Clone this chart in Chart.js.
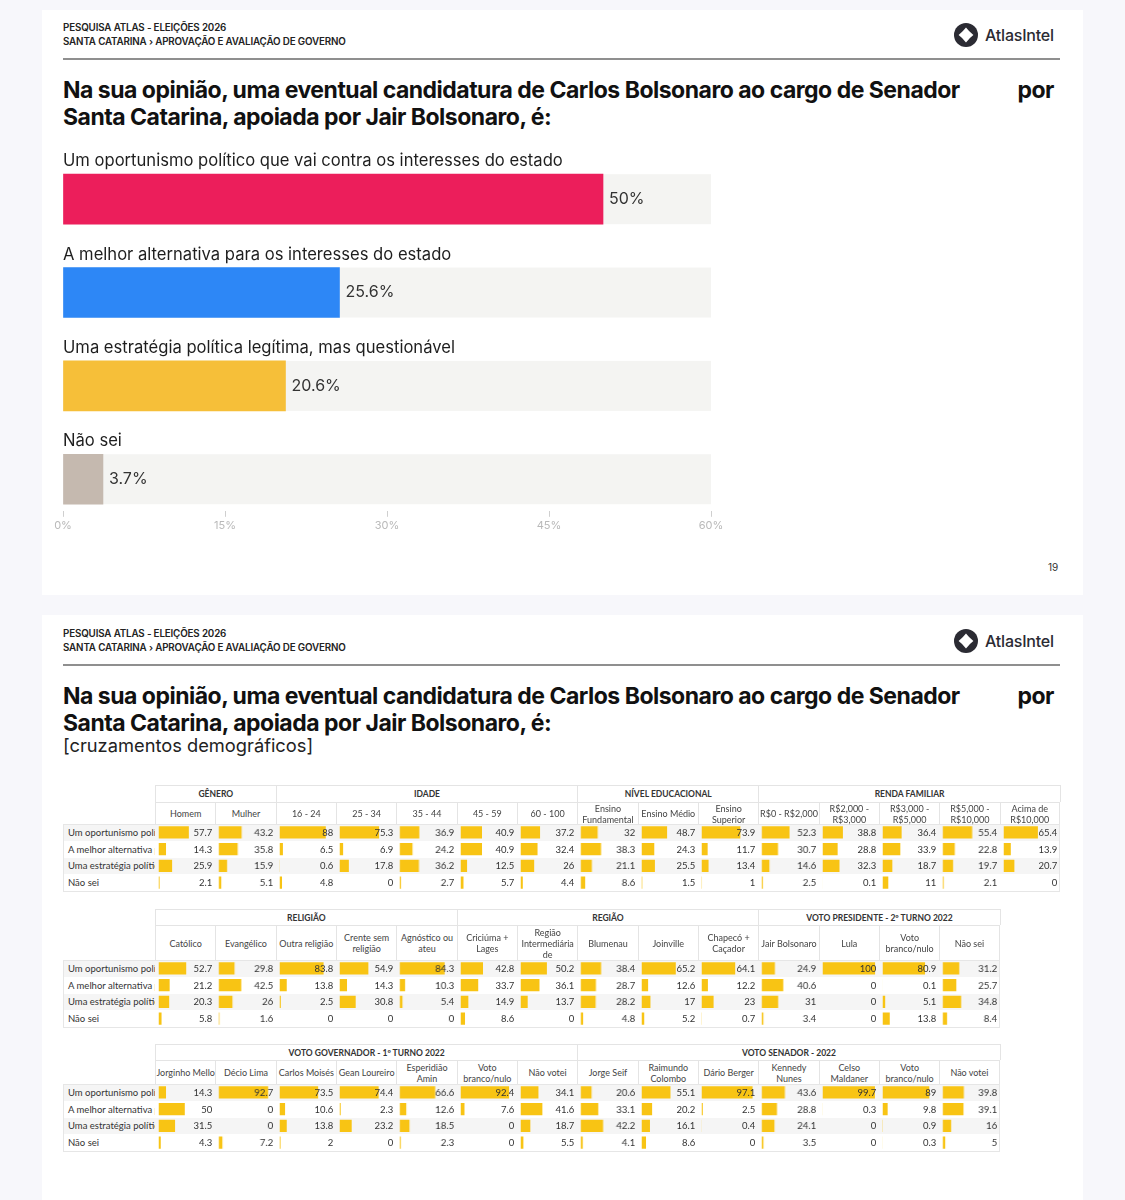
<!DOCTYPE html>
<html lang="pt-BR">
<head>
<meta charset="utf-8">
<title>Pesquisa Atlas - Carlos Bolsonaro ao Senado</title>
<script src="https://cdn.jsdelivr.net/npm/chart.js@4.4.1/dist/chart.umd.min.js"></script>
<style>
  body { margin: 0; width: 1125px; height: 1200px; position: relative; overflow: hidden;
         background: #f7f7fb; font-family: Inter, "Noto Sans", sans-serif; color: #141414; }
  .abs { position: absolute; }
  .card { position: absolute; left: 42px; width: 1041px; background: #fff; }
  .kicker { font-size: 9.8px; font-weight: 600; line-height: 12px; color: #222; letter-spacing: -0.15px; }
  .rule { height: 2px; background: #8f8f8f; left: 63px; width: 997px; }
  .logo { display: flex; align-items: center; gap: 7px; font-size: 16px; font-weight: 500; color: #2b2b33; letter-spacing: -0.2px; }
  .title { left: 63px; width: 991px; font-size: 23px; font-weight: 700; line-height: 27px; letter-spacing: -0.5px; color: #111; }
  .title .l1 { display: flex; justify-content: space-between; }
  .sub { left: 63px; font-size: 18.3px; line-height: 22px; color: #222; }
  .pagenum { font-size: 10px; color: #333; }
  .tbl { position: absolute; font-family: Lato, "Noto Sans", sans-serif; }
  .tbl div { position: absolute; box-sizing: border-box; }
  .ghead { font-size: 8.5px; font-weight: 700; color: #333; text-align: center; border: 1px solid #e4e4e4; border-bottom: none;
           display: flex; align-items: center; justify-content: center; }
  .shead { font-size: 9px; color: #444; text-align: center; line-height: 11px; white-space: pre; border-left: 1px solid #e4e4e4;
           border-top: 1px solid #e4e4e4; display: flex; align-items: center; justify-content: center; }
  .shead.last { border-right: 1px solid #e4e4e4; }
  .row.alt { background: #f5f5f5; }
  .rlabel { font-size: 9.5px; color: #333; white-space: nowrap; overflow: hidden; padding-left: 5px; padding-right: 2px;
            display: flex; align-items: center; }
  .frame { border: 1px solid #e6e6e6; }
</style>
</head>
<body>

<div class="card" style="top:10px;height:585px"></div>
<div class="card" style="top:615px;height:600px"></div>

<div id="page"></div>

<div class="abs" style="left:40px;top:130px;width:720px;height:420px"><canvas id="topChart"></canvas></div>
<div class="abs pagenum" style="left:1048px;top:561px">19</div>

<script>
// ---- dados: gráfico principal ----
const answerLabels = [
    'Um oportunismo político que vai contra os interesses do estado',
    'A melhor alternativa para os interesses do estado',
    'Uma estratégia política legítima, mas questionável',
    'Não sei'
];
const answerValues = [50, 25.6, 20.6, 3.7];
const answerTicks = [0, 15, 30, 45, 60];
const answerColors = ['#ec1e5b', '#2d87f6', '#f6bf39', '#c5b9af'];

// ---- dados: cruzamentos (cada lista = uma coluna, na ordem das respostas) ----
const generoCols = ['Homem', 'Mulher'];
const generoValues = [[57.7, 14.3, 25.9, 2.1], [43.2, 35.8, 15.9, 5.1]];

const idadeCols = ['16 - 24', '25 - 34', '35 - 44', '45 - 59', '60 - 100'];
const idadeValues = [[88, 6.5, 0.6, 4.8], [75.3, 6.9, 17.8, 0], [36.9, 24.2, 36.2, 2.7], [40.9, 40.9, 12.5, 5.7], [37.2, 32.4, 26, 4.4]];

const educCols = ['Ensino\nFundamental', 'Ensino Médio', 'Ensino\nSuperior'];
const educValues = [[32, 38.3, 21.1, 8.6], [48.7, 24.3, 25.5, 1.5], [73.9, 11.7, 13.4, 1]];

const rendaCols = ['R$0 - R$2,000', 'R$2,000 -\nR$3,000', 'R$3,000 -\nR$5,000', 'R$5,000 -\nR$10,000', 'Acima de\nR$10,000'];
const rendaValues = [[52.3, 30.7, 14.6, 2.5], [38.8, 28.8, 32.3, 0.1], [36.4, 33.9, 18.7, 11], [55.4, 22.8, 19.7, 2.1], [65.4, 13.9, 20.7, 0]];

const religiaoCols = ['Católico', 'Evangélico', 'Outra religião', 'Crente sem\nreligião', 'Agnóstico ou\nateu'];
const religiaoValues = [[52.7, 21.2, 20.3, 5.8], [29.8, 42.5, 26, 1.6], [83.8, 13.8, 2.5, 0], [54.9, 14.3, 30.8, 0], [84.3, 10.3, 5.4, 0]];

const regiaoCols = ['Criciúma +\nLages', 'Região\nIntermediária\nde', 'Blumenau', 'Joinville', 'Chapecó +\nCaçador'];
const regiaoValues = [[42.8, 33.7, 14.9, 8.6], [50.2, 36.1, 13.7, 0], [38.4, 28.7, 28.2, 4.8], [65.2, 12.6, 17, 5.2], [64.1, 12.2, 23, 0.7]];

const presidenteCols = ['Jair Bolsonaro', 'Lula', 'Voto\nbranco/nulo', 'Não sei'];
const presidenteValues = [[24.9, 40.6, 31, 3.4], [100, 0, 0, 0], [80.9, 0.1, 5.1, 13.8], [31.2, 25.7, 34.8, 8.4]];

const governadorCols = ['Jorginho Mello', 'Décio Lima', 'Carlos Moisés', 'Gean Loureiro', 'Esperidião\nAmin', 'Voto\nbranco/nulo', 'Não votei'];
const governadorValues = [[14.3, 50, 31.5, 4.3], [92.7, 0, 0, 7.2], [73.5, 10.6, 13.8, 2], [74.4, 2.3, 23.2, 0], [66.6, 12.6, 18.5, 2.3], [92.4, 7.6, 0, 0], [34.1, 41.6, 18.7, 5.5]];

const senadorCols = ['Jorge Seif', 'Raimundo\nColombo', 'Dário Berger', 'Kennedy\nNunes', 'Celso\nMaldaner', 'Voto\nbranco/nulo', 'Não votei'];
const senadorValues = [[20.6, 33.1, 42.2, 4.1], [55.1, 20.2, 16.1, 8.6], [97.1, 2.5, 0.4, 0], [43.6, 28.8, 24.1, 3.5], [99.7, 0.3, 0, 0], [89, 9.8, 0.9, 0.3], [39.8, 39.1, 16, 5]];

const kicker1 = 'PESQUISA ATLAS - ELEIÇÕES 2026';
const kicker2 = 'SANTA CATARINA › APROVAÇÃO E AVALIAÇÃO DE GOVERNO';
const titleLine1 = 'Na sua opinião, uma eventual candidatura de Carlos Bolsonaro ao cargo de Senador';
const titleLine2 = 'Santa Catarina, apoiada por Jair Bolsonaro, é:';

const labelW = 92;
const colW = 60.33;
const rowH = 16.75;
const cellBarColor = '#f8c414';

var page = document.getElementById('page');

function makeDiv(parent, cls, x, y, w, h, text) {
    var d = document.createElement('div');
    d.className = cls;
    d.style.left = x + 'px';
    d.style.top = y + 'px';
    if (w) d.style.width = w + 'px';
    if (h) d.style.height = h + 'px';
    if (text !== undefined) d.textContent = text;
    parent.appendChild(d);
    return d;
}

// cabeçalho de cada slide
function drawHeader(top) {
    makeDiv(page, 'abs kicker', 63, top, 0, 0, kicker1);
    makeDiv(page, 'abs kicker', 63, top + 14, 0, 0, kicker2);
    makeDiv(page, 'abs rule', 63, top + 36, 997, 2);
    var logo = makeDiv(page, 'abs logo', 954, top + 1, 0, 24);
    logo.innerHTML = '<svg width="24" height="24" viewBox="0 0 24 24"><circle cx="12" cy="12" r="12" fill="#2b2b33"/>' +
        '<path d="M12 4.6 Q15.2 8.8 19.4 12 Q15.2 15.2 12 19.4 Q8.8 15.2 4.6 12 Q8.8 8.8 12 4.6Z" fill="#fff"/></svg><span>AtlasIntel</span>';

    var t = makeDiv(page, 'abs title', 63, top + 55, 991);
    var l1 = document.createElement('div');
    l1.className = 'l1';
    l1.innerHTML = '<span>' + titleLine1 + '</span><span>por</span>';
    t.appendChild(l1);
    var l2 = document.createElement('div');
    l2.textContent = titleLine2;
    t.appendChild(l2);
}

drawHeader(22);
drawHeader(628);
makeDiv(page, 'abs sub', 63, 734, 0, 0, '[cruzamentos demográficos]');

// ---- gráfico principal ----
var topLabels = {
    id: 'topLabels',
    beforeDatasetsDraw: function (chart) {
        var ctx = chart.ctx, area = chart.chartArea, y = chart.scales.y;
        ctx.save();
        ctx.fillStyle = '#f4f4f2';
        answerLabels.forEach(function (label, i) {
            ctx.fillRect(area.left, y.getPixelForValue(i) - 25, area.right - area.left, 50);
        });
        ctx.restore();
    },
    afterDatasetsDraw: function (chart) {
        var ctx = chart.ctx, area = chart.chartArea, x = chart.scales.x, y = chart.scales.y;
        ctx.save();
        ctx.textBaseline = 'middle';
        ctx.textAlign = 'left';
        answerLabels.forEach(function (label, i) {
            var cy = y.getPixelForValue(i);
            ctx.font = '16.6px Inter';
            ctx.fillStyle = '#1e1e1e';
            ctx.fillText(label, area.left, cy - 38);
            ctx.font = '16px Inter';
            ctx.fillStyle = '#333';
            ctx.fillText(answerValues[i] + '%', x.getPixelForValue(answerValues[i]) + 6, cy);
        });
        ctx.restore();
    }
};

new Chart(document.getElementById('topChart'), {
    type: 'bar',
    data: {
        datasets: [{
            data: answerValues.map(function (v, i) { return { x: v, y: i }; }),
            backgroundColor: answerColors,
            barThickness: 50
        }]
    },
    options: {
        indexAxis: 'y',
        responsive: true,
        maintainAspectRatio: false,
        animation: false,
        events: [],
        layout: { padding: { left: 23, right: 49, top: 22.5, bottom: 16 } },
        scales: {
            y: { type: 'linear', reverse: true, offset: false, min: -0.5, max: 3.338, display: false },
            x: {
                min: 0, max: 60,
                afterBuildTicks: function (axis) {
                    axis.ticks = answerTicks.map(function (v) { return { value: v }; });
                },
                ticks: { callback: function (v) { return v + '%'; }, color: '#b9b9b9', font: { family: 'Inter', size: 11 }, padding: 2 },
                grid: { drawOnChartArea: false, drawTicks: true, tickLength: 6, color: '#cfcfcf' },
                border: { display: false }
            }
        },
        plugins: { legend: { display: false }, tooltip: { enabled: false } }
    },
    plugins: [topLabels]
});

// ---- tabelas de cruzamento ----
var cellLabels = {
    id: 'cellLabels',
    afterDatasetsDraw: function (chart) {
        var ctx = chart.ctx;
        var meta = chart.getDatasetMeta(0);
        ctx.save();
        ctx.font = '9.5px Lato';
        ctx.fillStyle = '#333';
        ctx.textAlign = 'right';
        ctx.textBaseline = 'middle';
        meta.data.forEach(function (bar, i) {
            ctx.fillText(String(chart.data.datasets[0].data[i]), chart.width - 3, bar.y + 0.5);
        });
        ctx.restore();
    }
};

function drawCellChart(canvas, values) {
    new Chart(canvas, {
        type: 'bar',
        data: {
            labels: answerLabels,
            datasets: [{ data: values, backgroundColor: cellBarColor, barPercentage: 0.72, categoryPercentage: 1 }]
        },
        options: {
            indexAxis: 'y',
            responsive: true,
            maintainAspectRatio: false,
            animation: false,
            events: [],
            layout: { padding: { left: 3.5, right: 0, top: 0, bottom: 0 } },
            scales: { x: { display: false, min: 0, max: 108 }, y: { display: false } },
            plugins: { legend: { display: false }, tooltip: { enabled: false } }
        },
        plugins: [cellLabels]
    });
}

function drawTable(top, groupH, subH, groups) {
    var box = makeDiv(page, 'tbl', 63, top);
    var nCols = 0;
    groups.forEach(function (g) { nCols += g.cols.length; });
    var width = labelW + nCols * colW;
    var dataTop = groupH + subH;

    for (var r = 0; r < 4; r++) {
        makeDiv(box, r % 2 === 0 ? 'row alt' : 'row', 0, dataTop + r * rowH, width, rowH);
        makeDiv(box, 'rlabel', 0, dataTop + r * rowH, labelW, rowH, answerLabels[r]);
    }
    makeDiv(box, 'frame', 0, dataTop, width, 4 * rowH + 1);

    var col = 0;
    groups.forEach(function (g) {
        makeDiv(box, 'ghead', labelW + col * colW, 0, g.cols.length * colW + 1, groupH, g.name);
        g.cols.forEach(function (name, k) {
            var cx = labelW + (col + k) * colW;
            makeDiv(box, col + k === nCols - 1 ? 'shead last' : 'shead', cx, groupH, colW, subH, name);
            var holder = makeDiv(box, '', cx, dataTop, colW, 4 * rowH);
            var cv = document.createElement('canvas');
            holder.appendChild(cv);
            drawCellChart(cv, g.values[k]);
        });
        col += g.cols.length;
    });
}

drawTable(785, 17, 22, [
    { name: 'GÊNERO', cols: generoCols, values: generoValues },
    { name: 'IDADE', cols: idadeCols, values: idadeValues },
    { name: 'NÍVEL EDUCACIONAL', cols: educCols, values: educValues },
    { name: 'RENDA FAMILIAR', cols: rendaCols, values: rendaValues }
]);

drawTable(909, 16, 35, [
    { name: 'RELIGIÃO', cols: religiaoCols, values: religiaoValues },
    { name: 'REGIÃO', cols: regiaoCols, values: regiaoValues },
    { name: 'VOTO PRESIDENTE - 2º TURNO 2022', cols: presidenteCols, values: presidenteValues }
]);

drawTable(1044, 16, 24, [
    { name: 'VOTO GOVERNADOR - 1º TURNO 2022', cols: governadorCols, values: governadorValues },
    { name: 'VOTO SENADOR - 2022', cols: senadorCols, values: senadorValues }
]);
</script>
</body>
</html>
